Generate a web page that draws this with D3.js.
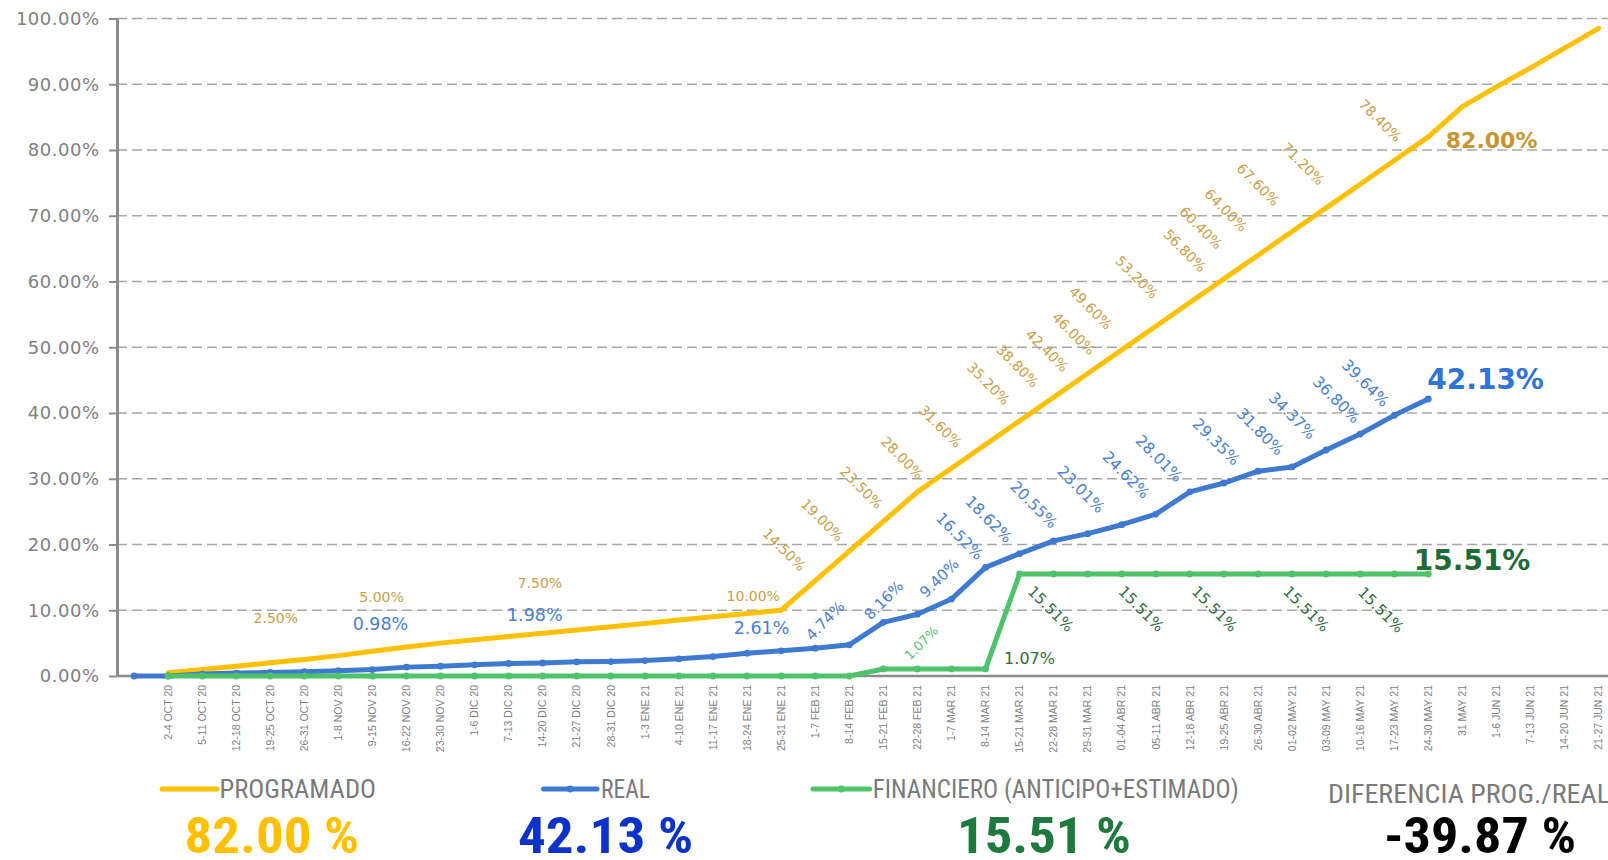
<!DOCTYPE html>
<html>
<head>
<meta charset="utf-8">
<script src="https://cdn.jsdelivr.net/npm/d3@7/dist/d3.min.js"></script>
<style>
  html, body { margin: 0; padding: 0; background: #ffffff; }
  svg { display: block; }
</style>
</head>
<body>
<svg id="chart" width="1608" height="860"></svg>
<script>
// ---- Data -----------------------------------------------------------------
const weeks = ["", "2-4 OCT 20", "5-11 OCT 20", "12-18 OCT 20", "19-25 OCT 20", "26-31 OCT 20",
  "1-8 NOV 20", "9-15 NOV 20", "16-22 NOV 20", "23-30 NOV 20", "1-6 DIC 20", "7-13 DIC 20",
  "14-20 DIC 20", "21-27 DIC 20", "28-31 DIC 20", "1-3 ENE 21", "4-10 ENE 21", "11-17 ENE 21",
  "18-24 ENE 21", "25-31 ENE 21", "1-7 FEB 21", "8-14 FEB 21", "15-21 FEB 21", "22-28 FEB 21",
  "1-7 MAR 21", "8-14 MAR 21", "15-21 MAR 21", "22-28 MAR 21", "29-31 MAR 21", "01-04 ABR 21",
  "05-11 ABR 21", "12-18 ABR 21", "19-25 ABR 21", "26-30 ABR 21", "01-02 MAY 21", "03-09 MAY 21",
  "10-16 MAY 21", "17-23 MAY 21", "24-30 MAY 21", "31 MAY 21", "1-6 JUN 21", "7-13 JUN 21",
  "14-20 JUN 21", "21-27 JUN 21"];

const programado = [null, 0.5, 1.0, 1.5, 2.0, 2.5, 3.1, 3.75, 4.4, 5.0, 5.5, 6.0, 6.5, 7.0, 7.5,
  8.0, 8.5, 9.0, 9.5, 10.0, 14.5, 19.0, 23.5, 28.0, 31.6, 35.2, 38.8, 42.4, 46.0, 49.6, 53.2,
  56.8, 60.4, 64.0, 67.6, 71.2, 74.8, 78.4, 82.0, 86.6, 89.6, 92.5, 95.5, 98.5];

const real = [0, 0, 0.3, 0.45, 0.55, 0.65, 0.8, 0.98, 1.35, 1.5, 1.7, 1.9, 1.98, 2.15, 2.2,
  2.35, 2.61, 2.96, 3.47, 3.83, 4.23, 4.74, 8.16, 9.40, 11.7, 16.52, 18.62, 20.55, 21.65, 23.01,
  24.62, 28.01, 29.35, 31.15, 31.80, 34.37, 36.80, 39.64, 42.13, null, null, null, null, null];

const financiero = [null, 0, 0, 0, 0, 0, 0, 0, 0, 0, 0, 0, 0, 0, 0, 0, 0, 0, 0, 0, 0, 0,
  1.07, 1.07, 1.07, 1.07, 15.51, 15.51, 15.51, 15.51, 15.51, 15.51, 15.51, 15.51, 15.51,
  15.51, 15.51, 15.51, 15.51, null, null, null, null, null];

const yTicks = [0, 10, 20, 30, 40, 50, 60, 70, 80, 90, 100];

// Summary figures shown under the legend
const seriesNames = ["PROGRAMADO", "REAL", "FINANCIERO (ANTICIPO+ESTIMADO)"];
const diffTitle = "DIFERENCIA PROG./REAL";
const totals = [82.00, 42.13, 15.51];
const difference = -39.87;

// Points that carry a value label
const progLabelIdx = [5, 9, 14, 19, 20, 21, 22, 23, 24, 25, 26, 27, 28, 29, 30, 31, 32, 33, 34, 35, 37];
const realLabelIdx = [7, 12, 16, 21, 22, 23, 25, 26, 27, 29, 30, 31, 32, 34, 35, 36, 37];
const finLabelIdx = [23, 25, 26, 29, 31, 34, 36];
const lastIdx = 38;

// ---- Layout of the value labels: [dx, dy, rotation, font size] from the point
const progLabelLayout = {
  5: [-28.5, -41.6, 0, 14], 9: [-59, -46, 0, 14], 14: [-71, -44, 0, 14], 19: [-28, -14, 0, 14],
  20: [-31, -31, 45, 14], 21: [-27, -31, 45, 14], 22: [-22, -34, 45, 14], 23: [-15, -34, 45, 14],
  24: [-11, -42, 45, 14], 25: [3, -61, 45, 14], 26: [-2, -55, 45, 14], 27: [-6.5, -46.6, 45, 14],
  28: [-14, -40, 45, 14], 29: [-31, -42, 45, 14], 30: [-19, -49, 45, 14], 31: [-5, -52, 45, 14],
  32: [-23, -51, 45, 14], 33: [-32, -45, 45, 14], 34: [-34, -47, 45, 14], 35: [-23, -44, 45, 14],
  37: [-14, -40, 45, 14]
};
const realLabelLayout = {
  7: [8, -46, 0, 17.5], 12: [-8, -48, 0, 17.5], 16: [82.5, -31, 0, 17.5],
  21: [-24, -24, -45, 15], 22: [0.5, -22, -45, 15], 23: [22, -36, -45, 15],
  25: [-26, -31, 45, 15.5], 26: [-31, -34, 45, 15.5], 27: [-20, -36, 45, 15.5],
  29: [-41, -35, 45, 15.5], 30: [-30, -39, 45, 15.5], 31: [-31, -33, 45, 15.5],
  32: [-8, -41, 45, 15.5], 34: [-32, -35, 45, 15.5], 35: [-34, -34, 45, 15.5],
  36: [-24, -34, 45, 15.5], 37: [-29, -32, 45, 15.5]
};
const finLabelLayout = {
  23: [4, -26, -45, 13], 25: [44, -10.6, 0, 16],
  26: [31, 35, 45, 15], 29: [19.4, 35, 45, 15], 31: [24.6, 35, 45, 15],
  34: [14, 35, 45, 15], 36: [20.6, 36, 45, 15]
};

// ---- Colours ----------------------------------------------------------------
const C = {
  prog: "#FFC000", progText: "#C9A04A", progBold: "#C8962E",
  real: "#3F7AD1", realText: "#4A80D2", realBold: "#2F74D6",
  fin: "#4FC36B", finText: "#2E6B40", finLight: "#55BF70", finBold: "#1F6B35",
  grid: "#A6A6A6", axis: "#8C8C8C", tick: "#808080", legend: "#7A7A7A"
};

// ---- Scales -----------------------------------------------------------------
const X0 = 117, STEP = 34.06, Y0 = 676, Y100 = 18.5, RIGHT = 1608;
const x = d3.scaleBand().domain(d3.range(weeks.length)).range([X0, X0 + STEP * weeks.length]);
const cx = i => x(i) + x.bandwidth() / 2;
const y = d3.scaleLinear().domain([0, 100]).range([Y0, Y100]);

const svg = d3.select("#chart");
svg.append("rect").attr("width", 1608).attr("height", 860).attr("fill", "#fff");

// Horizontal dashed grid
svg.append("g").selectAll("line").data(yTicks.filter(d => d > 0)).join("line")
  .attr("x1", X0).attr("x2", RIGHT)
  .attr("y1", d => y(d)).attr("y2", d => y(d))
  .attr("stroke", C.grid).attr("stroke-width", 1.6).attr("stroke-dasharray", "10 5");

// Y axis
const yAxis = svg.append("g").attr("transform", `translate(${X0},0)`)
  .call(d3.axisLeft(y).tickValues(yTicks).tickFormat(d => d.toFixed(2) + "%")
    .tickSize(8).tickSizeOuter(0).tickPadding(9.5));
yAxis.select(".domain").attr("stroke", C.axis).attr("stroke-width", 3);
yAxis.selectAll(".tick line").attr("stroke", C.axis).attr("stroke-width", 2);
yAxis.selectAll(".tick text").attr("fill", C.tick)
  .style("font-family", "'DejaVu Sans', Verdana, sans-serif").style("font-size", "18px")
  .style("letter-spacing", "0.5px");

// X axis
const xAxis = svg.append("g").attr("transform", `translate(0,${Y0})`)
  .call(d3.axisBottom(x).tickFormat(i => weeks[i]).tickSize(0).tickSizeOuter(0));
xAxis.select(".domain").attr("stroke", C.axis).attr("stroke-width", 2.5)
  .attr("d", `M${X0},0H${RIGHT}`);
xAxis.selectAll(".tick text")
  .attr("transform", "rotate(-90)")
  .attr("x", -9).attr("y", 0).attr("dy", "0.35em")
  .style("text-anchor", "end").attr("fill", C.tick)
  .style("font-family", "'Liberation Sans', Arial, sans-serif").style("font-size", "10.5px");

// ---- Lines -------------------------------------------------------------------
const lineGen = d3.line().defined(d => d.v != null).x(d => cx(d.i)).y(d => y(d.v));
const pts = arr => arr.map((v, i) => ({ i, v }));

function drawSeries(arr, color, withMarkers) {
  svg.append("path").datum(pts(arr))
    .attr("d", lineGen).attr("fill", "none").attr("stroke", color)
    .attr("stroke-width", 5).attr("stroke-linejoin", "round").attr("stroke-linecap", "round");
  if (withMarkers) {
    svg.append("g").selectAll("circle").data(pts(arr).filter(d => d.v != null)).join("circle")
      .attr("cx", d => cx(d.i)).attr("cy", d => y(d.v)).attr("r", 3.4).attr("fill", color);
  }
}
drawSeries(programado, C.prog, false);
drawSeries(real, C.real, true);
drawSeries(financiero, C.fin, true);

// ---- Value labels --------------------------------------------------------------
const fmt = v => v.toFixed(2) + "%";
function drawLabels(arr, idx, layout, colorFor) {
  svg.append("g").selectAll("text").data(idx).join("text")
    .attr("transform", i => {
      const [dx, dy, rot] = layout[i];
      return `translate(${cx(i) + dx},${y(arr[i]) + dy}) rotate(${rot})`;
    })
    .attr("text-anchor", "middle").attr("dominant-baseline", "central")
    .style("font-family", "'DejaVu Sans', Verdana, sans-serif")
    .style("font-size", i => layout[i][3] + "px")
    .attr("fill", colorFor)
    .text(i => fmt(arr[i]));
}
drawLabels(programado, progLabelIdx, progLabelLayout, () => C.progText);
drawLabels(real, realLabelIdx, realLabelLayout, () => C.realText);
drawLabels(financiero, finLabelIdx, finLabelLayout, i => (i === 23 ? C.finLight : C.finText));

// Bold labels at the latest reported week
const boldFont = "'DejaVu Sans', Verdana, sans-serif";
svg.append("text").attr("x", cx(lastIdx) + 17.5).attr("y", y(programado[lastIdx]) + 11.5)
  .style("font-family", boldFont).style("font-weight", "bold").style("font-size", "22px")
  .attr("fill", C.progBold).text(fmt(programado[lastIdx]));
svg.append("text").attr("x", cx(lastIdx) - 1).attr("y", y(real[lastIdx]) - 10)
  .style("font-family", boldFont).style("font-weight", "bold").style("font-size", "28px")
  .attr("fill", C.realBold).text(fmt(real[lastIdx]));
svg.append("text").attr("x", cx(lastIdx) - 14.5).attr("y", y(financiero[lastIdx]) - 4)
  .style("font-family", boldFont).style("font-weight", "bold").style("font-size", "28px")
  .attr("fill", C.finBold).text(fmt(financiero[lastIdx]));

// ---- Legend and summary figures ---------------------------------------------------
const narrow = "'Liberation Sans Narrow', 'Roboto Condensed', 'DejaVu Sans Condensed', 'Liberation Sans', Arial, sans-serif";
const legendItems = [
  { name: seriesNames[0], color: C.prog, x1: 162, x2: 217, tx: 219.5, tw: 156.5, marker: false,
    total: totals[0], totalColor: "#FFC000", nx: 184.6, nw: 174.4 },
  { name: seriesNames[1], color: C.real, x1: 543.5, x2: 597, tx: 601, tw: 49, marker: true,
    total: totals[1], totalColor: "#0D32C8", nx: 518, nw: 175 },
  { name: seriesNames[2], color: C.fin, x1: 813, x2: 869.6, tx: 872.7, tw: 366, marker: true,
    total: totals[2], totalColor: "#1E7A3C", nx: 957, nw: 174 }
];
const lg = svg.append("g");
legendItems.forEach(d => {
  lg.append("line").attr("x1", d.x1).attr("x2", d.x2).attr("y1", 789).attr("y2", 789)
    .attr("stroke", d.color).attr("stroke-width", 5).attr("stroke-linecap", "round");
  if (d.marker) {
    lg.append("circle").attr("cx", (d.x1 + d.x2) / 2).attr("cy", 789).attr("r", 3.4).attr("fill", d.color);
  }
  lg.append("text").attr("x", d.tx).attr("y", 798)
    .attr("textLength", d.tw).attr("lengthAdjust", "spacingAndGlyphs")
    .style("font-family", narrow).style("font-size", "25px").attr("fill", C.legend)
    .text(d.name);
  lg.append("text").attr("x", d.nx).attr("y", 853)
    .attr("textLength", d.nw).attr("lengthAdjust", "spacingAndGlyphs")
    .style("font-family", narrow).style("font-weight", "bold").style("font-size", "50px")
    .attr("fill", d.totalColor)
    .text(d.total.toFixed(2) + " %");
});
lg.append("text").attr("x", 1328).attr("y", 803)
  .attr("textLength", 282).attr("lengthAdjust", "spacingAndGlyphs")
  .style("font-family", narrow).style("font-size", "26px").attr("fill", C.legend)
  .text(diffTitle);
lg.append("text").attr("x", 1384).attr("y", 853)
  .attr("textLength", 192).attr("lengthAdjust", "spacingAndGlyphs")
  .style("font-family", narrow).style("font-weight", "bold").style("font-size", "50px")
  .attr("fill", "#000")
  .text(difference.toFixed(2) + " %");
</script>
</body>
</html>
